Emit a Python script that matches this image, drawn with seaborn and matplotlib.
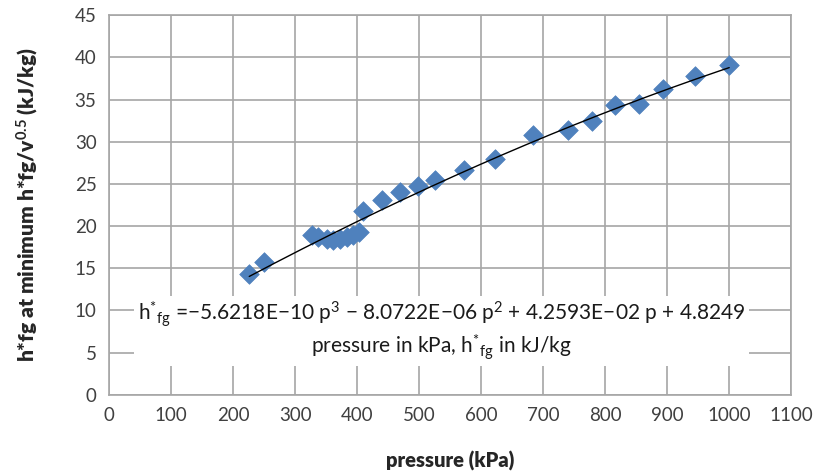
import numpy as np
import pandas as pd
import matplotlib
matplotlib.use("Agg")
import matplotlib.pyplot as plt
import seaborn as sns

# --- data ---
pressure = [226, 250, 327, 337, 351, 361, 372, 383, 394, 403,
            410, 440, 469, 498, 526, 573, 623, 684, 740, 779,
            816, 855, 894, 945, 1000]
h_fg = [14.3, 15.7, 18.9, 18.7, 18.5, 18.4, 18.5, 18.7, 18.9, 19.3,
        21.8, 23.1, 24.1, 24.7, 25.5, 26.7, 27.9, 30.8, 31.4, 32.5,
        34.4, 34.5, 36.2, 37.8, 39.1]

# cubic trendline coefficients printed on the chart (p^3, p^2, p, 1)
fit_coef = [-5.6218e-10, -8.0722e-06, 4.2593e-02, 4.8249]

x_ticks = list(range(0, 1101, 100))
y_ticks = list(range(0, 46, 5))

df = pd.DataFrame({"pressure": pressure, "h_fg": h_fg})

p_line = np.linspace(min(pressure), max(pressure), 200)
df_fit = pd.DataFrame({"pressure": p_line, "h_fg": np.polyval(fit_coef, p_line)})

# --- styling ---
sns.set_style("white")
plt.rcParams["font.family"] = ["Lato", "DejaVu Sans"]
plt.rcParams["mathtext.fontset"] = "custom"
plt.rcParams["mathtext.rm"] = "Lato"
plt.rcParams["mathtext.it"] = "Lato"
plt.rcParams["mathtext.bf"] = "Lato:bold"

grid_col = "#a6a6a6"

fig = plt.figure(figsize=(8.14, 4.74), dpi=100)
ax = fig.add_axes([0.134, 0.167, 0.838, 0.801])

sns.scatterplot(data=df, x="pressure", y="h_fg", marker="D", s=100,
                color="#4f81bd", edgecolor="#4f81bd", linewidth=0.5,
                ax=ax, zorder=3)
sns.lineplot(data=df_fit, x="pressure", y="h_fg", color="black",
             linewidth=1.0, ax=ax, zorder=4)

ax.set_xlim(0, 1100)
ax.set_ylim(0, 45)
ax.set_xticks(x_ticks)
ax.set_yticks(y_ticks)
ax.grid(True, color=grid_col, linewidth=1.2)
ax.set_axisbelow(True)
for s in ax.spines.values():
    s.set_color(grid_col)
    s.set_linewidth(1.2)
ax.tick_params(axis="both", direction="out", length=5, width=1.2,
               color=grid_col, labelsize=13.5, labelcolor="#404040", pad=4)

ax.set_xlabel("pressure (kPa)", fontsize=14.5, fontweight="heavy",
              color="#262626", labelpad=19)
ax.set_ylabel(r"h*fg at minimum h*fg/v$\mathbf{^{0.5}}$ (kJ/kg)",
              fontsize=15, fontweight="heavy", color="#262626", labelpad=24)

eq = ("h$^{*}{}_{\\mathrm{fg}}$ =\u22125.6218E\u221210 p$^{3}$ \u2212 8.0722E\u221206 p$^{2}$"
      " + 4.2593E\u221202 p + 4.8249")
eq2 = "pressure in kPa, h$^{*}{}_{\\mathrm{fg}}$ in kJ/kg"
ax.text(536, 7.6, eq + "\n" + eq2,
        ha="center", va="center", fontsize=15, color="#1a1a1a",
        linespacing=1.15, zorder=5,
        bbox=dict(facecolor="white", edgecolor="none", pad=3))

fig.savefig("out.png", dpi=100)
